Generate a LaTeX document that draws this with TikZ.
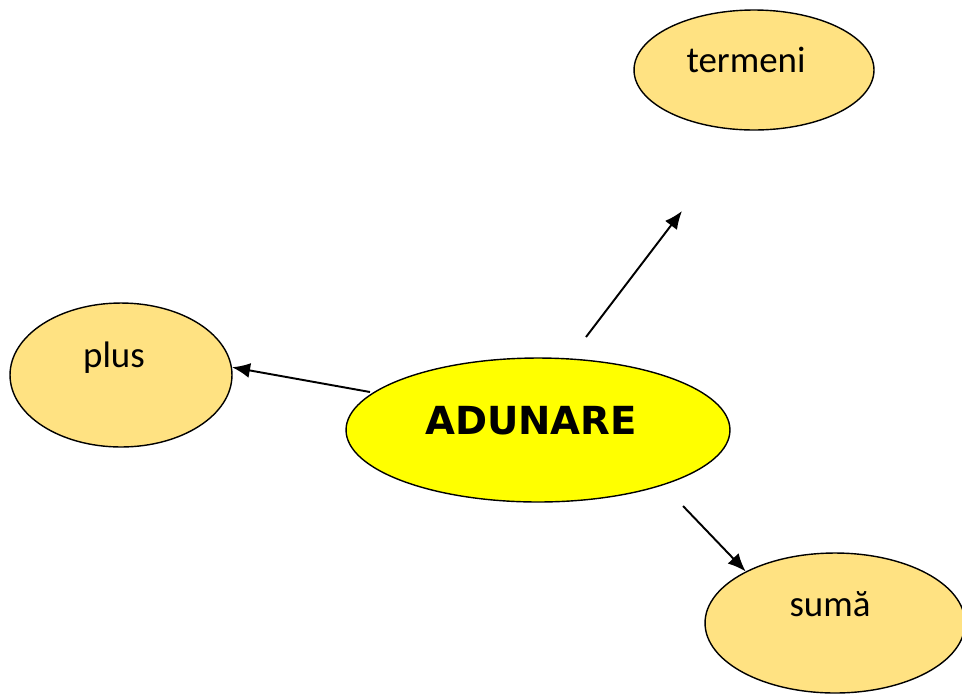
\documentclass[tikz,border=0pt]{standalone}
\usepackage{fontspec}
\setmainfont{Carlito}
\newfontfamily\titlefont{DejaVu Sans}
\usepackage{tikz}
\usetikzlibrary{
  arrows.meta,
  positioning,
  calc,
  shapes.geometric
}
\definecolor{termgold}{RGB}{255,226,130}
\definecolor{mainyellow}{RGB}{255,255,0}
\tikzset{
  termoval/.style={
    ellipse,
    draw=black,
    line width=0.8pt,
    fill=termgold,
    inner sep=0pt
  },
  mainoval/.style={termoval,fill=mainyellow},
  termtext/.style={anchor=base,font=\fontsize{21}{25}\selectfont},
  maintext/.style={anchor=base,font=\titlefont\bfseries\fontsize{22}{26}\selectfont},
  linkarrow/.style={-{Latex[length=3.6mm,width=3mm]},line width=1.1pt,draw=black},
}

\begin{document}
\begin{tikzpicture}[x=0.02cm,y=-0.02cm]
  \useasboundingbox (0,0) rectangle (962,694);
  % Ovals
  \node[termoval,minimum width=4.8cm,minimum height=2.4cm] (termeni) at (754,70) {};
  \node[termoval,minimum width=4.44cm,minimum height=2.88cm] (plus) at (121,375) {};
  \node[mainoval,minimum width=7.68cm,minimum height=2.88cm] (adunare) at (538,430) {};
  \node[termoval,minimum width=5.2cm,minimum height=2.8cm] (suma) at (835,623) {};

  % Labels
  \node[termtext] (termenitext) at (746,72) {termeni};
  \node[termtext] (plustext) at (114,367) {plus};
  \node[maintext] (adunaretext) at (531,434) {ADUNARE};
  \node[termtext] (sumatext) at (830,616) {sumă};

  % Arrows
  \coordinate (fromtop) at (586,337);
  \coordinate (totop) at (682,211);
  \coordinate (fromleft) at (370,392);
  \coordinate (fromright) at (683,506);
  \draw[linkarrow] (fromtop) -- (totop);
  \draw[linkarrow] (fromleft) -- (plus.4);
  \draw[linkarrow] (fromright) -- (suma.150);
\end{tikzpicture}
\end{document}
